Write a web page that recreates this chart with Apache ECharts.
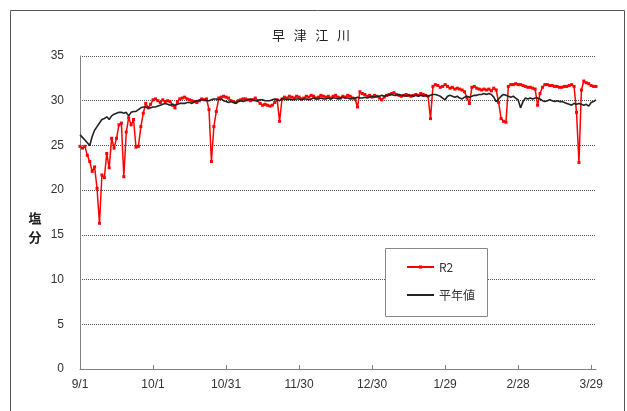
<!DOCTYPE html>
<html>
<head>
<meta charset="utf-8">
<script src="https://cdn.jsdelivr.net/npm/echarts@6/dist/echarts.min.js"></script>
<style>
html,body{margin:0;padding:0;background:#fff;}
#chart{width:627px;height:411px;}
</style>
</head>
<body>
<div id="chart"></div>
<script>
// ---- data ----
const chartTitle = '早   津   江   川';
const yAxisTitle = '塩\n分';
const seriesNames = ['R2', '平年値'];
const xTickLabels = ['9/1','10/1','10/31','11/30','12/30','1/29','2/28','3/29'];
const yTicks = [0,5,10,15,20,25,30,35];

// daily values, 9/1 .. 3/31
const r2Values = [
  24.9,24.7,24.9,23.9,23.2,22.1,22.6,20.2,16.3,21.7,
  21.4,24.1,22.5,25.8,24.7,25.8,27.3,27.5,21.5,26.5,
  28.1,27.3,27.9,24.8,24.9,27.1,28.6,29.7,29.2,29.6,
  30.1,30.2,30.0,29.8,30.1,29.9,30.0,29.9,29.5,29.2,
  29.9,30.2,30.3,30.4,30.2,30.1,30.0,29.9,29.8,30.0,
  30.2,30.1,30.2,29.0,23.2,27.1,28.8,30.3,30.4,30.5,
  30.4,30.3,30.0,29.9,29.8,30.0,30.1,30.2,30.2,30.1,
  30.0,30.1,30.3,30.0,29.7,29.5,29.6,29.5,29.4,29.5,
  29.8,30.1,27.7,30.2,30.4,30.3,30.5,30.4,30.3,30.5,
  30.4,30.2,30.3,30.5,30.4,30.6,30.5,30.3,30.4,30.6,
  30.5,30.4,30.5,30.3,30.5,30.6,30.4,30.3,30.5,30.4,
  30.6,30.5,30.3,30.2,29.3,31.0,30.8,30.7,30.5,30.6,
  30.4,30.6,30.5,30.3,30.1,30.4,30.6,30.7,30.8,30.9,
  30.7,30.6,30.5,30.6,30.7,30.6,30.5,30.6,30.7,30.6,
  30.8,30.7,30.6,30.5,28.0,31.6,31.8,31.7,31.5,31.6,
  31.8,31.6,31.4,31.5,31.3,31.4,31.3,31.2,31.0,30.3,
  29.7,31.5,31.6,31.4,31.3,31.2,31.3,31.2,31.3,31.1,
  31.4,31.2,29.8,28.0,27.7,27.6,31.6,31.8,31.8,31.9,
  31.8,31.8,31.7,31.6,31.5,31.5,31.4,31.3,29.5,30.8,
  31.5,31.8,31.8,31.7,31.7,31.6,31.6,31.5,31.5,31.6,
  31.6,31.7,31.8,31.6,28.7,23.1,31.2,32.2,32.0,31.9,
  31.7,31.6,31.6
];
const normalValues = [
  26.2,25.9,25.6,25.3,25.0,26.0,26.7,27.1,27.5,27.9,
  28.0,28.2,27.9,28.3,28.5,28.6,28.7,28.7,28.6,28.7,
  28.3,28.7,28.8,28.8,29.0,29.2,29.3,29.3,29.2,29.2,
  29.3,29.3,29.4,29.5,29.6,29.7,29.6,29.5,29.6,29.5,
  29.6,29.7,29.7,29.7,29.8,29.8,29.7,29.9,30.0,30.0,
  30.1,30.1,30.0,30.0,30.1,30.2,30.2,30.1,30.2,30.0,
  29.9,29.8,29.9,29.8,29.7,29.9,30.0,29.9,30.0,30.1,
  30.2,30.1,30.0,30.0,30.1,30.1,30.0,30.0,30.0,30.1,
  30.2,30.1,30.0,30.2,30.2,30.1,30.2,30.1,30.1,30.2,
  30.2,30.1,30.2,30.2,30.1,30.2,30.3,30.2,30.2,30.3,
  30.2,30.2,30.3,30.2,30.3,30.3,30.2,30.3,30.4,30.3,
  30.3,30.2,30.3,30.3,30.4,30.3,30.3,30.4,30.3,30.4,
  30.5,30.4,30.5,30.5,30.6,30.5,30.6,30.6,30.7,30.6,
  30.6,30.7,30.6,30.6,30.5,30.6,30.6,30.5,30.6,30.5,
  30.6,30.5,30.6,30.5,30.6,30.7,30.7,30.6,30.5,30.3,
  30.1,30.5,30.6,30.5,30.4,30.5,30.3,30.2,30.4,30.5,
  30.4,30.5,30.6,30.6,30.7,30.7,30.8,30.7,30.8,30.7,
  30.4,29.9,30.2,30.5,30.7,30.6,30.5,30.4,30.5,30.3,
  30.1,29.2,29.9,30.3,30.2,30.3,30.2,30.3,30.3,30.2,
  30.0,29.9,30.0,30.1,30.0,29.9,30.0,29.9,29.9,29.8,
  29.7,29.6,29.5,29.7,29.6,29.7,29.6,29.5,29.6,29.4,
  29.8,29.9,30.1
];

// category dates (2019-09-01 onward, leap-year February)
const categories = [];
for (let i = 0; i < r2Values.length; i++) {
  const dt = new Date(Date.UTC(2019, 8, 1 + i));
  categories.push((dt.getUTCMonth() + 1) + '/' + dt.getUTCDate());
}
const tickStep = 30;

const chart = echarts.init(document.getElementById('chart'), null, {renderer: 'canvas'});
const numFont = 'Liberation Sans, Arial, sans-serif';
const cjkFont = '"Noto Sans CJK JP", sans-serif';

chart.setOption({
  animation: false,
  backgroundColor: '#fff',
  title: {
    text: chartTitle,
    left: 306, top: 24, textAlign: 'center',
    textStyle: {fontFamily: cjkFont, fontSize: 13, fontWeight: 'normal', color: '#222'}
  },
  grid: {left: 80, right: 31, top: 56, bottom: 42},
  legend: {
    orient: 'vertical',
    left: 401, top: 256,
    itemWidth: 27, itemHeight: 4, itemGap: 16,
    z: 100,
    data: [
      {name: seriesNames[0]},
      {name: seriesNames[1], itemStyle: {opacity: 0}}
    ],
    textStyle: {fontFamily: cjkFont, fontSize: 12, color: '#333'}
  },
  xAxis: {
    type: 'category',
    data: categories,
    boundaryGap: false,
    axisLine: {lineStyle: {color: '#808080', width: 1}},
    axisTick: {inside: true, length: 4, interval: (i) => i % tickStep === 0, lineStyle: {color: '#808080'}},
    axisLabel: {
      interval: (i) => i % tickStep === 0,
      formatter: (v, i) => xTickLabels[i / tickStep] || '',
      margin: 10,
      fontFamily: numFont, fontSize: 12, color: '#333'
    },
    splitLine: {show: false}
  },
  yAxis: {
    type: 'value',
    min: yTicks[0], max: yTicks[yTicks.length - 1], interval: 5,
    axisLine: {show: true, lineStyle: {color: '#808080', width: 1}},
    axisTick: {show: false},
    axisLabel: {margin: 16, fontFamily: numFont, fontSize: 12, color: '#333'},
    splitLine: {lineStyle: {color: '#555', type: [1, 1], width: 1}}
  },
  graphic: [
    {type: 'rect', shape: {x: 10.5, y: 10.5, width: 614, height: 430}, style: {fill: 'none', stroke: '#555', lineWidth: 1}, z: -1, silent: true},
    {type: 'rect', shape: {x: 385.5, y: 248.5, width: 102, height: 68}, style: {fill: '#fff', stroke: '#888', lineWidth: 1}, z: 50, silent: true},
    {type: 'text', x: 35, y: 228, style: {text: yAxisTitle, fontFamily: cjkFont, fontSize: 13, fontWeight: 'bold', fill: '#222', lineHeight: 19, align: 'center', verticalAlign: 'middle'}, silent: true}
  ],
  series: [
    {
      name: seriesNames[0], type: 'line', data: r2Values,
      symbol: 'rect', symbolSize: 3, showSymbol: true, showAllSymbol: true,
      lineStyle: {color: '#ff0000', width: 1.5},
      itemStyle: {color: '#ff0000'},
      z: 3
    },
    {
      name: seriesNames[1], type: 'line', data: normalValues,
      symbol: 'none',
      lineStyle: {color: '#222', width: 1.6},
      itemStyle: {color: '#222'},
      z: 4
    }
  ]
});
</script>
</body>
</html>
